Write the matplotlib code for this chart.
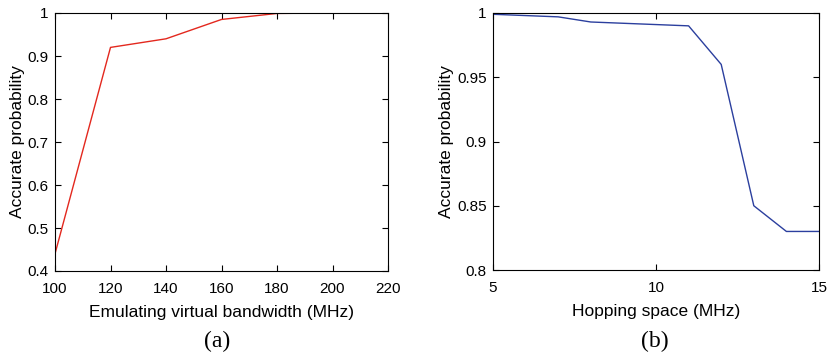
import matplotlib
matplotlib.use("Agg")
import matplotlib.pyplot as plt

# (a) accuracy vs emulating virtual bandwidth
bw_mhz = [100, 120, 140, 160, 180, 200, 220]
acc_bw = [0.44, 0.92, 0.94, 0.985, 0.999, 1.0, 1.0]

# (b) accuracy vs hopping space
hop_mhz = [5, 6, 7, 8, 9, 10, 11, 12, 13, 14, 15]
acc_hop = [0.999, 0.998, 0.997, 0.993, 0.992, 0.991, 0.990, 0.960, 0.850, 0.830, 0.830]

plt.rcParams['font.family'] = ['Liberation Sans', 'DejaVu Sans']
plt.rcParams['font.size'] = 11

fig = plt.figure(figsize=(8.31, 3.53), dpi=100)
ax1 = fig.add_axes([55 / 831, 1 - 271 / 353, 333 / 831, 258 / 353])
ax2 = fig.add_axes([493 / 831, 1 - 270 / 353, 326 / 831, 257 / 353])

ax1.plot(bw_mhz, acc_bw, color='#e3281e', lw=1.0)
ax1.set_xlim(100, 220)
ax1.set_ylim(0.4, 1.0)
ax1.set_xticks(bw_mhz)
ax1.set_yticks([0.4, 0.5, 0.6, 0.7, 0.8, 0.9, 1.0])
ax1.set_yticklabels(['0.4', '0.5', '0.6', '0.7', '0.8', '0.9', '1'])
ax1.set_xlabel('Emulating virtual bandwidth (MHz)', fontsize=12.5, labelpad=6.5)
ax1.set_ylabel('Accurate probability', fontsize=12.5, labelpad=2)

ax2.plot(hop_mhz, acc_hop, color='#2b3f9e', lw=1.0)
ax2.set_xlim(5, 15)
ax2.set_ylim(0.8, 1.0)
ax2.set_xticks([5, 10, 15])
ax2.set_yticks([0.8, 0.85, 0.9, 0.95, 1.0])
ax2.set_yticklabels(['0.8', '0.85', '0.9', '0.95', '1'])
ax2.set_xlabel('Hopping space (MHz)', fontsize=12.5, labelpad=6.5)
ax2.set_ylabel('Accurate probability', fontsize=12.5, labelpad=2)

for ax in (ax1, ax2):
    ax.tick_params(direction='in', top=True, right=True, length=4, width=0.8,
                   labelsize=11)
    ax.tick_params(axis='y', pad=4.5)
    ax.tick_params(axis='x', pad=8)
    for sp in ax.spines.values():
        sp.set_linewidth(0.8)

fig.text(217 / 831, 1 - 341 / 353, '(a)', family='Liberation Serif',
         fontsize=17, ha='center', va='center')
fig.text(655 / 831, 1 - 341 / 353, '(b)', family='Liberation Serif',
         fontsize=17, ha='center', va='center')

fig.savefig('out.png', dpi=100)
